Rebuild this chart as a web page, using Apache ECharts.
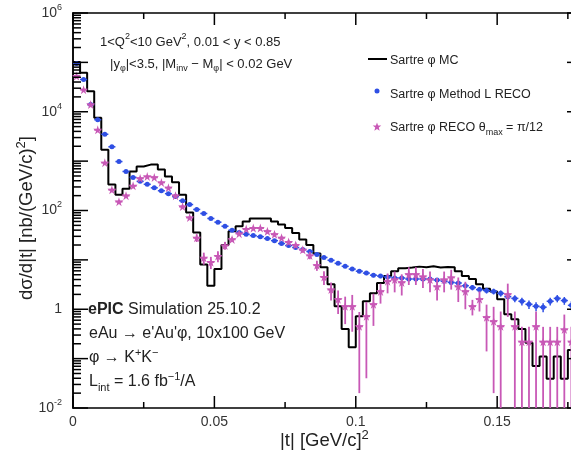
<!DOCTYPE html>
<html>
<head>
<meta charset="utf-8">
<script src="https://cdn.jsdelivr.net/npm/echarts@6/dist/echarts.min.js"></script>
<style>
  html, body { margin: 0; padding: 0; background: #fff; }
  #chart { width: 571px; height: 454px; }
</style>
</head>
<body>
<div id="chart"></div>
<script>
// bins of |t|, 0.0025 GeV^2 wide, starting at 0
const binWidth = 0.0025
const xMin = 0
const xMax = 0.18
const yMin = 0.01
const yMax = 1e6
const xTickLabels = ['0', '0.05', '0.1', '0.15']

// Sartre phi MC (black histogram)
const mcValues = [
  102000, 62000, 26000, 7600, 1700, 335, 209, 277, 617, 776,
  850, 850, 676, 490, 372, 209, 91, 36, 8.1, 3.0,
  6.5, 20, 38, 48, 60, 69, 69, 69, 60, 52,
  44, 35, 26, 20, 13.5, 7.1, 3.2, 1.15, 0.40, 0.17,
  0.72, 1.45, 2.1, 3.4, 4.7, 5.9, 6.8, 7.0, 7.3, 7.1,
  7.4, 7.0, 7.2, 7.1, 5.9, 4.7, 4.1, 3.2, 2.6, 2.3,
  1.6, 0.79, 0.63, 0.40, 0.21, 0.071, 0.11, 0.039, 0.11, 0.039, 0.15
]

// Sartre phi Method L RECO (blue)
const methodLValues = [
  95000, 45000, 14000, 6900, 3500, 1950, 980, 617, 468, 389,
  339, 288, 251, 219, 191, 158, 132, 105, 87, 69,
  58, 48, 40, 36, 33, 31, 29.5, 27, 24.5, 21.4,
  19.5, 17.8, 16.2, 14.8, 12.9, 11.2, 9.8, 8.5, 7.4, 6.5,
  5.9, 5.4, 4.9, 4.7, 4.5, 4.3, 4.3, 4.1, 4.1, 4.1,
  4.1, 3.9, 3.7, 3.5, 3.4, 3.0, 2.75, 2.5, 2.4, 2.3,
  2.1, 1.8, 1.66, 1.45, 1.26, 1.15, 1.1, 1.45, 1.66, 1.5, 1.2
]
const methodLErr = [
  1000, 600, 300, 120, 60, 35, 20, 14, 11, 9,
  8, 7, 6, 5.5, 5, 4.2, 3.6, 3, 2.6, 2.2,
  1.9, 1.7, 1.5, 1.4, 1.3, 1.25, 1.2, 1.15, 1.1, 1.0,
  0.95, 0.9, 0.85, 0.8, 0.75, 0.7, 0.65, 0.6, 0.55, 0.5,
  0.5, 0.48, 0.45, 0.45, 0.44, 0.43, 0.43, 0.42, 0.42, 0.42,
  0.42, 0.41, 0.4, 0.39, 0.38, 0.36, 0.34, 0.33, 0.32, 0.31,
  0.3, 0.28, 0.27, 0.26, 0.25, 0.24, 0.23, 0.26, 0.28, 0.27, 0.25
]

// Sartre phi RECO theta_max = pi/12 (magenta stars)
const thetaValues = [
  53000, 28000, 14000, 4300, 930, 263, 151, 200, 316, 447,
  490, 468, 370, 290, 200, 120, 72, 28, 11, 9,
  12, 19.5, 26, 34, 42, 44, 44, 38, 33, 28,
  23, 20, 16, 12.3, 7.8, 4.5, 2.5, 1.6, 1.15, 1.15,
  0.45, 0.72, 1.26, 2.3, 3.7, 4.0, 3.5, 5.1, 5.1, 4.6,
  4.0, 2.9, 4.0, 4.4, 2.9, 2.3, 1.15, 1.6, 0.69, 0.57,
  0.45, 2.0, 0.45, 0.22, 0.22, 0.45, 0.22, 0.22, 0.22, 0.39, 0.22
]
const thetaErr = [
  1500, 1000, 500, 200, 50, 15, 10, 12, 18, 20,
  20, 20, 17, 14, 10, 7, 5, 5, 3, 2.5,
  3, 3.5, 2.8, 3, 3.3, 3.4, 3.4, 3.2, 3, 2.7,
  2.4, 2.2, 2, 2, 1.8, 1.4, 1.0, 0.8, 0.65, 0.8,
  0.43, 0.68, 0.8, 1.0, 1.6, 1.8, 1.6, 2.0, 2.0, 1.9,
  1.8, 1.4, 1.8, 1.9, 1.5, 1.3, 0.4, 0.7, 0.55, 0.55,
  0.45, 1.3, 0.45, 0.22, 0.22, 0.45, 0.22, 0.22, 0.22, 0.39, 0.22
]

const blue = '#2f4fe4'
const magenta = '#c858b6'
const font = '"Liberation Sans", Arial, Helvetica, sans-serif'

const binCenter = (i) => (i + 0.5) * binWidth

// histogram outline: left edges + closing right edge
const mcStep = mcValues.map((v, i) => [i * binWidth, v])
mcStep.push([mcValues.length * binWidth, mcValues[mcValues.length - 1]])

const methodLPts = methodLValues.map((v, i) => [binCenter(i), v, methodLErr[i]])
const thetaPts = thetaValues.map((v, i) => [binCenter(i), v, thetaErr[i]])

// frame ticks (ROOT style, on all four sides)
const tickData = []
for (let k = 0; k * 0.025 <= xMax + 1e-9; k++) {
  tickData.push([k * 0.025, yMin, k % 2 === 0 ? 12 : 6, 0])
}
for (let d = -2; d <= 6; d++) {
  tickData.push([xMin, Math.pow(10, d), 15, 1])
  if (d < 6) {
    for (let m = 2; m <= 9; m++) tickData.push([xMin, m * Math.pow(10, d), 8, 1])
  }
}

function tickItem(params, api) {
  const kind = api.value(3)
  const len = api.value(2)
  const style = { stroke: '#000', lineWidth: 1.5 }
  if (kind === 0) {
    const b = api.coord([api.value(0), yMin])
    const tp = api.coord([api.value(0), yMax])
    return { type: 'group', children: [
      { type: 'line', shape: { x1: b[0], y1: b[1], x2: b[0], y2: b[1] - len }, style },
      { type: 'line', shape: { x1: tp[0], y1: tp[1], x2: tp[0], y2: tp[1] + len }, style },
    ] }
  }
  const l = api.coord([xMin, api.value(1)])
  const r = api.coord([xMax, api.value(1)])
  return { type: 'group', children: [
    { type: 'line', shape: { x1: l[0], y1: l[1], x2: l[0] + len, y2: l[1] }, style },
    { type: 'line', shape: { x1: r[0], y1: r[1], x2: r[0] - len, y2: r[1] }, style },
  ] }
}

function errorBarItem(color, lw) {
  return function (params, api) {
    const t = api.value(0), v = api.value(1), e = api.value(2)
    const hw = binWidth / 2
    const top = api.coord([t, v + e])
    const bot = api.coord([t, Math.max(v - e, yMin)])
    const l = api.coord([t - hw, v])
    const r = api.coord([t + hw, v])
    const style = { stroke: color, lineWidth: lw }
    return { type: 'group', children: [
      { type: 'line', shape: { x1: top[0], y1: top[1], x2: bot[0], y2: bot[1] }, style },
      { type: 'line', shape: { x1: l[0], y1: l[1], x2: r[0], y2: r[1] }, style },
    ] }
  }
}

function richFor(size) {
  const s = Math.round(size * 0.68)
  return {
    n: { fontSize: size, fontFamily: font, lineHeight: size + 6, fill: '#222' },
    b: { fontSize: size, fontFamily: font, fontWeight: 'bold', lineHeight: size + 6, fill: '#222' },
    sup: { fontSize: s, fontFamily: font, verticalAlign: 'top', lineHeight: s, fill: '#222' },
    sub: { fontSize: s, fontFamily: font, verticalAlign: 'bottom', lineHeight: s, fill: '#222' },
  }
}

function label(x, y, text, size, extra) {
  return Object.assign({
    type: 'text', x, y, silent: true,
    style: { text, font: size + 'px ' + font, fill: '#222', align: 'left', verticalAlign: 'middle', rich: richFor(size) },
  }, extra || {})
}

function starPoints(cx, cy, R) {
  const pts = []
  for (let k = 0; k < 10; k++) {
    const r = k % 2 === 0 ? R : R * 0.42
    const a = -Math.PI / 2 + k * Math.PI / 5
    pts.push([cx + r * Math.cos(a), cy + r * Math.sin(a)])
  }
  return pts
}

const starPath = 'path://M50,0 L61,35 L98,35 L68,57 L79,91 L50,70 L21,91 L32,57 L2,35 L39,35 Z'

const chart = echarts.init(document.getElementById('chart'), null, { renderer: 'canvas' })

const yTitle = label(27, 218, '{n|dσ/d|t| [nb/(GeV/c)}{sup|2}{n|]}', 18.5)
yTitle.rotation = Math.PI / 2
yTitle.style.align = 'center'

const option = {
  animation: false,
  backgroundColor: '#fff',
  grid: { left: 73, top: 13, width: 509, height: 395, containLabel: false, outerBoundsMode: 'none' },
  xAxis: [
    {
      type: 'value', min: xMin, max: xMax, interval: 0.05,
      axisLine: { show: true, lineStyle: { color: '#000', width: 1.5 } },
      axisTick: { show: false },
      splitLine: { show: false },
      axisLabel: {
        margin: 7, fontSize: 14, fontFamily: font, color: '#333', showMaxLabel: false,
        formatter: (v) => xTickLabels[Math.round(v / 0.05)] || '',
      },
    },
    {
      type: 'value', position: 'top', min: xMin, max: xMax, interval: 0.05,
      axisLine: { show: true, lineStyle: { color: '#000', width: 1.5 } },
      axisTick: { show: false }, axisLabel: { show: false }, splitLine: { show: false },
    },
  ],
  yAxis: [
    {
      type: 'log', logBase: 10, min: yMin, max: yMax, interval: 2,
      axisLine: { show: true, lineStyle: { color: '#000', width: 1.5 } },
      axisTick: { show: false },
      splitLine: { show: false },
      axisLabel: {
        margin: 11, fontSize: 14, fontFamily: font, color: '#333',
        formatter: (v) => {
          const e = Math.round(Math.log10(v))
          if (e % 2 !== 0) return ''
          if (e === 0) return '{b|1}'
          return '{b|10}{s|' + e + '}'
        },
        rich: {
          b: { fontSize: 14, fontFamily: font, color: '#333', lineHeight: 20 },
          s: { fontSize: 9, fontFamily: font, color: '#333', verticalAlign: 'top', lineHeight: 9 },
        },
      },
    },
    {
      type: 'log', logBase: 10, position: 'right', min: yMin, max: yMax,
      axisLine: { show: true, lineStyle: { color: '#000', width: 1.5 } },
      axisTick: { show: false }, axisLabel: { show: false }, splitLine: { show: false },
    },
  ],
  series: [
    {
      name: 'ticks', type: 'custom', silent: true, z: 5,
      renderItem: tickItem, encode: { x: 0, y: 1 }, data: tickData,
    },
    {
      name: 'Sartre φ MC', type: 'line', step: 'end', showSymbol: false, symbol: 'none',
      lineStyle: { color: '#000', width: 2 }, itemStyle: { color: '#000' },
      data: mcStep, z: 2,
    },
    {
      name: 'Method L err', type: 'custom', silent: true, z: 3,
      renderItem: errorBarItem(blue, 1.5), encode: { x: 0, y: 1 }, data: methodLPts,
    },
    {
      name: 'Sartre φ Method L RECO', type: 'scatter', symbol: 'circle', symbolSize: 5,
      itemStyle: { color: blue, opacity: 1 }, data: methodLPts, z: 3,
    },
    {
      name: 'theta err', type: 'custom', silent: true, z: 4,
      renderItem: errorBarItem(magenta, 1.8), encode: { x: 0, y: 1 }, data: thetaPts,
    },
    {
      name: 'Sartre φ RECO θmax = π/12', type: 'scatter', symbol: starPath, symbolSize: 9,
      itemStyle: { color: magenta, opacity: 1 }, data: thetaPts, z: 4,
    },
  ],
  graphic: [
    label(100, 42, '{n|1<Q}{sup|2}{n|<10 GeV}{sup|2}{n|, 0.01 < y < 0.85}', 13),
    label(110, 64, '{n||y}{sub|φ}{n||<3.5, |M}{sub|inv}{n| − M}{sub|φ}{n|| < 0.02 GeV}', 13),
    // legend
    { type: 'line', silent: true, shape: { x1: 368, y1: 59, x2: 387, y2: 59 }, style: { stroke: '#000', lineWidth: 2 } },
    label(390, 61, '{n|Sartre φ MC}', 12.5),
    { type: 'circle', silent: true, shape: { cx: 377, cy: 91, r: 2.5 }, style: { fill: blue } },
    label(390, 95, '{n|Sartre φ Method L RECO}', 12.5),
    { type: 'polygon', silent: true, shape: { points: starPoints(377, 127, 4.5) }, style: { fill: magenta } },
    label(390, 128, '{n|Sartre φ RECO θ}{sub|max}{n| = π/12}', 12.5),
    // simulation info
    label(88, 310, '{b|ePIC}{n| Simulation 25.10.2}', 16),
    label(89, 334, "{n|eAu → e'Au'φ, 10x100 GeV}", 16),
    label(89, 358, '{n|φ → K}{sup|+}{n|K}{sup|−}', 16),
    label(89, 382, '{n|L}{sub|int}{n| = 1.6 fb}{sup|−1}{n|/A}', 16),
    // axis titles
    label(280, 441, '{n||t| [GeV/c]}{sup|2}', 18.5),
    yTitle,
  ],
}

chart.setOption(option)
</script>
</body>
</html>
